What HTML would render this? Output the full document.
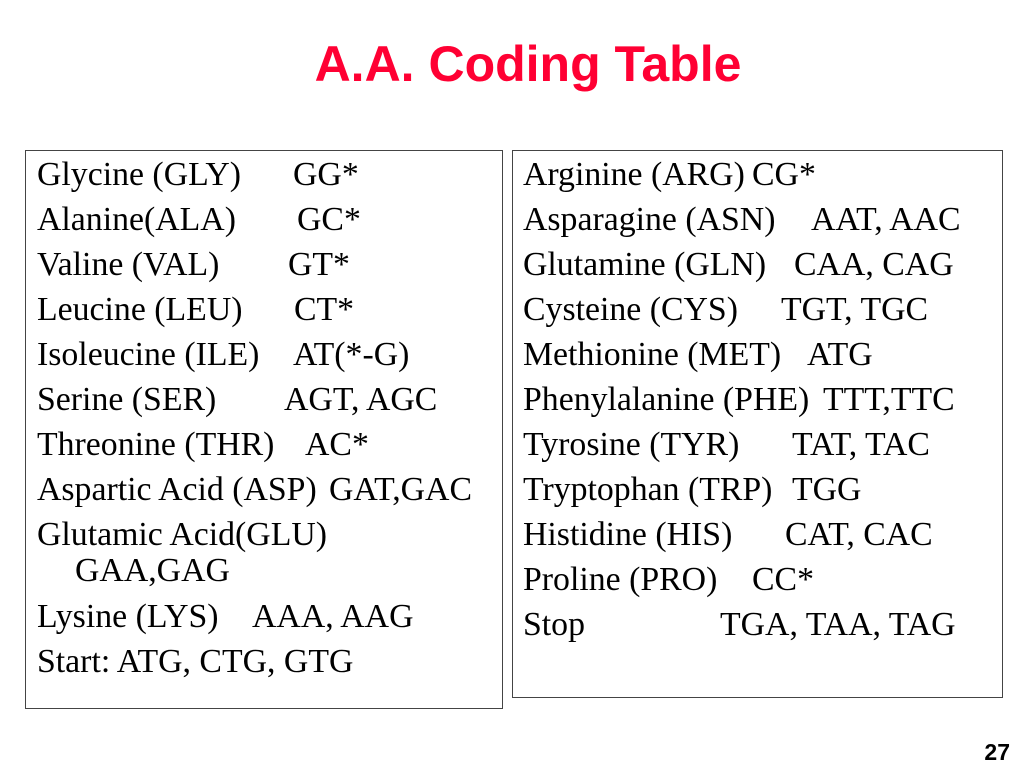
<!DOCTYPE html>
<html><head><meta charset="utf-8"><style>
html,body{margin:0;padding:0;background:#fff;}
svg{display:block}
.t{font-family:"Liberation Serif",serif;font-size:33.8px;fill:#000}
</style></head><body>
<svg width="1024" height="768" xmlns="http://www.w3.org/2000/svg">
<text x="528" y="81" text-anchor="middle" font-family="Liberation Sans, sans-serif" font-weight="bold" font-size="50" fill="#ff0033">A.A. Coding Table</text>
<rect x="25.5" y="150.5" width="477" height="558" fill="none" stroke="#444" stroke-width="1"/>
<rect x="512.5" y="150.5" width="490" height="547" fill="none" stroke="#444" stroke-width="1"/>
<g class="t">
<text x="37" y="185">Glycine (GLY)</text><text x="293" y="185">GG*</text>
<text x="37" y="230">Alanine(ALA)</text><text x="297" y="230">GC*</text>
<text x="37" y="275">Valine (VAL)</text><text x="288" y="275">GT*</text>
<text x="37" y="320">Leucine (LEU)</text><text x="294" y="320">CT*</text>
<text x="37" y="365">Isoleucine (ILE)</text><text x="293" y="365">AT(*-G)</text>
<text x="37" y="410">Serine (SER)</text><text x="284" y="410">AGT, AGC</text>
<text x="37" y="455">Threonine (THR)</text><text x="305" y="455">AC*</text>
<text x="37" y="500">Aspartic Acid (ASP)</text><text x="329" y="500">GAT,GAC</text>
<text x="37" y="545">Glutamic Acid(GLU)</text>
<text x="75" y="581">GAA,GAG</text>
<text x="37" y="627">Lysine (LYS)</text><text x="252" y="627">AAA, AAG</text>
<text x="37" y="672">Start: ATG, CTG, GTG</text>

<text x="523" y="185">Arginine (ARG)</text><text x="752" y="185">CG*</text>
<text x="523" y="230">Asparagine (ASN)</text><text x="811" y="230">AAT, AAC</text>
<text x="523" y="275">Glutamine (GLN)</text><text x="794" y="275">CAA, CAG</text>
<text x="523" y="320">Cysteine (CYS)</text><text x="781" y="320">TGT, TGC</text>
<text x="523" y="365">Methionine (MET)</text><text x="807" y="365">ATG</text>
<text x="523" y="410">Phenylalanine (PHE)</text><text x="823" y="410">TTT,TTC</text>
<text x="523" y="455">Tyrosine (TYR)</text><text x="792" y="455">TAT, TAC</text>
<text x="523" y="500">Tryptophan (TRP)</text><text x="792" y="500">TGG</text>
<text x="523" y="545">Histidine (HIS)</text><text x="785" y="545">CAT, CAC</text>
<text x="523" y="590">Proline (PRO)</text><text x="752" y="590">CC*</text>
<text x="523" y="635">Stop</text><text x="720" y="635">TGA, TAA, TAG</text>
</g>
<text x="1010" y="760" text-anchor="end" font-family="Liberation Sans, sans-serif" font-weight="bold" font-size="23" fill="#000">27</text>
</svg>
</body></html>
